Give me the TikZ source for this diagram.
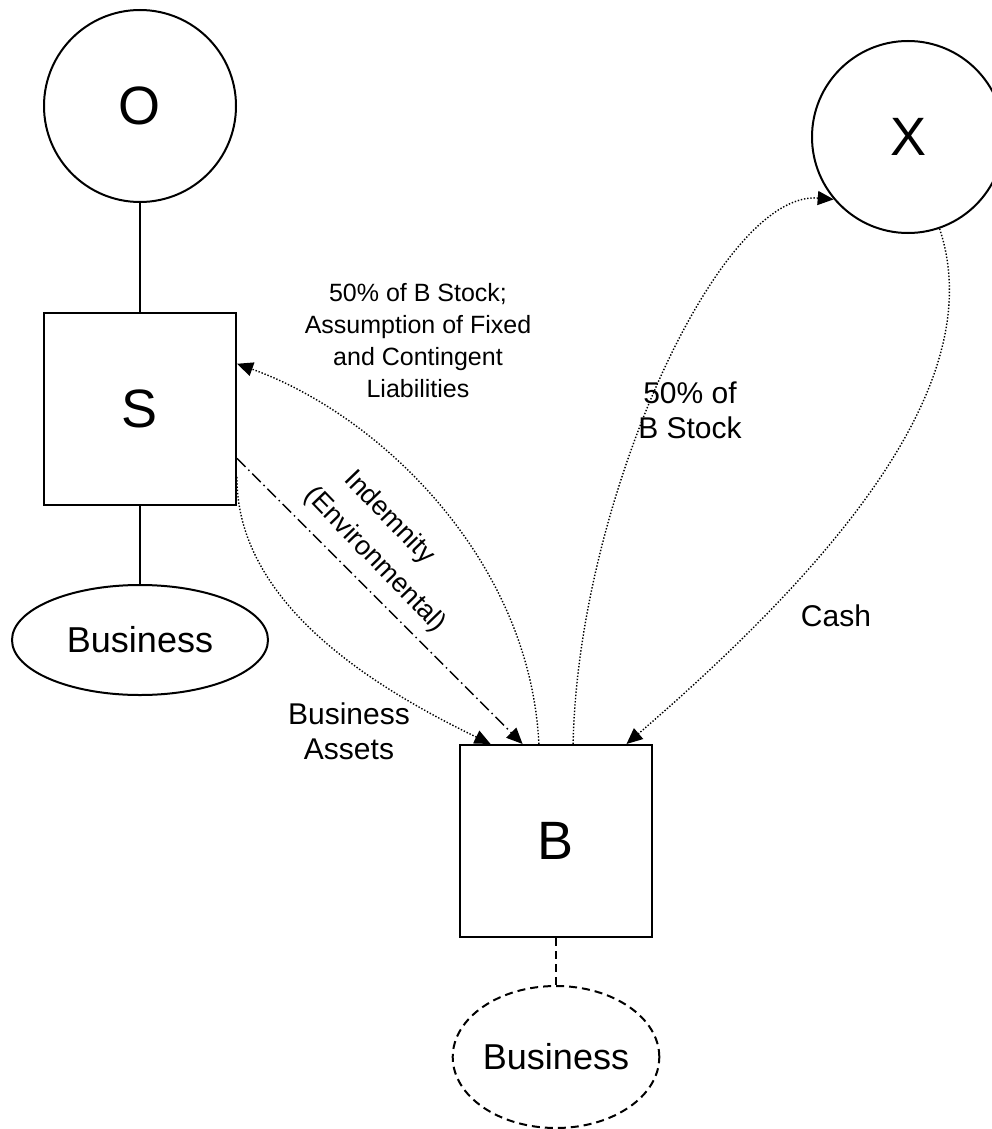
\documentclass[tikz,border=0pt]{standalone}
\usepackage{fontspec}
\setmainfont{Liberation Sans}
\usetikzlibrary{arrows.meta,shapes.geometric}

\begin{document}
\begin{tikzpicture}[x=1pt,y=-1pt,
  link/.style={line width=2pt},
  dashlink/.style={line width=2pt,dash pattern=on 8pt off 5pt},
  party/.style={circle,draw,line width=2pt,minimum size=192pt,inner sep=0pt,
    font=\fontsize{54}{60}\selectfont},
  entity/.style={rectangle,draw,line width=2pt,minimum width=192pt,minimum height=192pt,
    inner sep=0pt,font=\fontsize{54}{60}\selectfont},
  biz/.style={ellipse,draw,line width=2pt,inner sep=0pt,font=\fontsize{36}{40}\selectfont},
  flowtip/.style={-{Triangle[length=16pt,width=14pt]}},
  flow/.style={flowtip,line width=1.4pt,dash pattern=on 1.4pt off 1.8pt},
  pledge/.style={flowtip,line width=1.5pt,dash pattern=on 12pt off 4pt on 1.5pt off 4pt},
  lbl/.style={align=center,inner sep=0pt,font=\fontsize{30}{35}\selectfont},
  smalllbl/.style={align=center,inner sep=0pt,font=\fontsize{25}{32}\selectfont},
  rotlbl/.style={inner sep=0pt,rotate=-46,font=\fontsize{27}{32}\selectfont}
]
\useasboundingbox (0,0) rectangle (991,1129);

% parties and companies
\node[party] (O) at (140,106) {O};
\node[party] (X) at (908,137) {X};
\node[entity] (S) at (140,409) {S};
\node[entity] (B) at (556,841) {B};
\node[biz,minimum width=256pt,minimum height=110pt] (SB) at (140,640) {Business};
\node[biz,dashlink,minimum width=192pt,minimum height=142pt] (BB) at (556,1057) {Business};

% ownership lines
\draw[link] (O) -- (S);
\draw[link] (S) -- (SB);
\draw[dashlink] (B) -- (BB);

% transfers
\draw[flow] (B.100) .. controls (530,560) and (380,415) .. (S.25);
\draw[flow] (S.-35) .. controls (236,610) and (390,695) .. (B.124);
\draw[pledge] (S.-27.5) -- (B.109);
\draw[flow] (B.80) .. controls (578,500) and (720,190) .. (X.220);
\draw[flow] (X.-71) .. controls (990,380) and (840,560) .. (B.54);

% labels
\node[smalllbl] (lstock) at (418,341) {50\% of B Stock;\\Assumption of Fixed\\and Contingent\\Liabilities};
\node[lbl] (lxstock) at (690,410) {50\% of\\B Stock};
\node[lbl] (lassets) at (349,731) {Business\\Assets};
\node[lbl] (lcash) at (836,616) {Cash};
\node[rotlbl] (lind) at (389,518) {Indemnity};
\node[rotlbl] (lenv) at (375,560) {(Environmental)};
\end{tikzpicture}
\end{document}
